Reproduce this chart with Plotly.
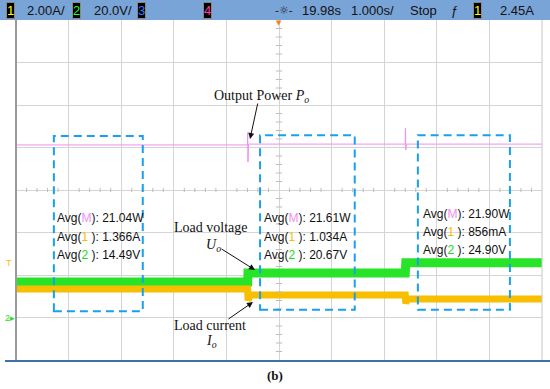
import plotly.graph_objects as go

# ---- data (screen divisions: x in time divisions 0..10, y in vertical divisions 0..8) ----
power_t = [0, 4.40, 4.405, 4.41, 4.42, 7.40, 7.405, 7.41, 7.42, 10]
power_y = [5.06, 5.06, 5.35, 4.66, 5.08, 5.08, 5.46, 4.94, 5.08, 5.08]

voltage_t = [0, 4.405, 4.41, 7.40, 7.41, 10]
voltage_y = [1.835, 1.835, 2.05, 2.05, 2.29, 2.29]

current_t = [0, 4.405, 4.41, 4.43, 4.45, 7.40, 7.41, 7.43, 7.45, 10]
current_y = [1.67, 1.67, 1.40, 1.50, 1.53, 1.53, 1.33, 1.42, 1.435, 1.435]

box_x0 = [0.72, 4.64, 7.64]
box_x1 = [2.41, 6.44, 9.39]
box_y0 = [1.15, 1.18, 1.18]
box_y1 = [5.27, 5.29, 5.29]

avg_power = ["21.04W", "21.61W", "21.90W"]
avg_current = ["1.366A", "1.034A", "856mA"]
avg_voltage = ["14.49V", "20.67V", "24.90V"]

W, H = 550, 389
L, R, T, B = 16, 8, 20, 29
PW, PH = W - L - R, H - T - B


def px(x):
    return (x - L) / PW


def py(y):
    return (H - B - y) / PH


PINK = "#f28ef0"
GREEN = "#28e428"
ORANGE = "#f8be00"
BLUE = "#1a9fee"

fig = go.Figure()
fig.add_trace(go.Scatter(x=voltage_t, y=voltage_y, mode="lines",
                         line=dict(color=GREEN, width=9), hoverinfo="skip"))
fig.add_trace(go.Scatter(x=current_t, y=current_y, mode="lines",
                         line=dict(color=ORANGE, width=7), hoverinfo="skip"))
fig.add_trace(go.Scatter(x=power_t, y=power_y, mode="lines",
                         line=dict(color=PINK, width=1), hoverinfo="skip"))

shapes = []
# header bar
shapes.append(dict(type="rect", xref="paper", yref="paper", x0=px(0), x1=px(W),
                   y0=py(20), y1=py(0), fillcolor="#79a4d8", line=dict(width=0), layer="below"))
# left and right borders
shapes.append(dict(type="line", xref="paper", yref="paper", x0=0, x1=0, y0=0, y1=1,
                   line=dict(color="#9a9a9a", width=2)))
shapes.append(dict(type="line", xref="paper", yref="paper", x0=1, x1=1, y0=0, y1=1,
                   line=dict(color="#c8c8c8", width=1)))
# bottom blue line
shapes.append(dict(type="line", xref="paper", yref="paper", x0=px(5), x1=px(550),
                   y0=py(361), y1=py(361), line=dict(color="#3f70a8", width=2)))
# minor ticks on centre axes
for i in range(51):
    xv = i * 0.2
    if i % 5:
        shapes.append(dict(type="line", xref="x", yref="y", x0=xv, x1=xv, y0=3.95, y1=4.05,
                           line=dict(color="#bdbdbd", width=1)))
for i in range(41):
    yv = i * 0.2
    if i % 5:
        shapes.append(dict(type="line", xref="x", yref="y", x0=4.94, x1=5.06, y0=yv, y1=yv,
                           line=dict(color="#bdbdbd", width=1)))
# dashed boxes
for x0, x1, y0, y1 in zip(box_x0, box_x1, box_y0, box_y1):
    shapes.append(dict(type="rect", xref="x", yref="y", x0=x0, x1=x1, y0=y0, y1=y1,
                       line=dict(color=BLUE, width=2, dash="8px,5px")))

ann = []
sans = "Liberation Sans, Arial, sans-serif"
serif = "Liberation Serif, Times New Roman, serif"

# Avg texts
text_x = [55, 262, 421]
text_y = [(218, 237, 255), (218, 237, 255), (214, 232, 250)]
for i in range(3):
    lines = [
        f"Avg(<span style='color:#f08ef0'>M</span>): {avg_power[i]}",
        f"Avg(<span style='color:{ORANGE}'>1</span> ): {avg_current[i]}",
        f"Avg(<span style='color:#22d822'>2</span> ): {avg_voltage[i]}",
    ]
    for t, yy in zip(lines, text_y[i]):
        ann.append(dict(text=t, xref="paper", yref="paper", x=px(text_x[i]), y=py(yy),
                        xanchor="left", yanchor="middle", showarrow=False,
                        font=dict(family=sans, size=12, color="#111")))

# serif labels
ann.append(dict(text="Output Power <i>P<sub>o</sub></i>", xref="paper", yref="paper",
                x=px(212), y=py(96), xanchor="left", yanchor="middle", showarrow=False,
                font=dict(family=serif, size=14, color="#111")))
ann.append(dict(text="Load voltage", xref="paper", yref="paper", x=px(210), y=py(227),
                xanchor="center", yanchor="middle", showarrow=False,
                font=dict(family=serif, size=14, color="#111")))
ann.append(dict(text="<i>U<sub>o</sub></i>", xref="paper", yref="paper", x=px(213), y=py(245),
                xanchor="center", yanchor="middle", showarrow=False,
                font=dict(family=serif, size=14, color="#111")))
ann.append(dict(text="Load current", xref="paper", yref="paper", x=px(210), y=py(325),
                xanchor="center", yanchor="middle", showarrow=False,
                font=dict(family=serif, size=14, color="#111")))
ann.append(dict(text="<i>I<sub>o</sub></i>", xref="paper", yref="paper", x=px(211), y=py(341),
                xanchor="center", yanchor="middle", showarrow=False,
                font=dict(family=serif, size=14, color="#111")))
# arrows
for hx, hy, ax, ay in [(250, 139, 8, -37), (255, 270, -35, -22), (253, 302, -26, 18)]:
    ann.append(dict(text="", xref="paper", yref="paper", x=px(hx), y=py(hy), ax=ax, ay=ay,
                    showarrow=True, arrowhead=2, arrowsize=1.2, arrowwidth=1, arrowcolor="#111"))
# (b)
ann.append(dict(text="<b>(b)</b>", xref="paper", yref="paper", x=px(275), y=py(375),
                xanchor="center", yanchor="middle", showarrow=False,
                font=dict(family=serif, size=13, color="#111")))

# header
hdr_font = dict(family=sans, size=13, color="#111")
for t, x in [("2.00A/", 25), ("20.0V/", 92), ("19.98s", 300), ("1.000s/", 349),
             ("Stop", 408), ("2.45A", 498)]:
    ann.append(dict(text=t, xref="paper", yref="paper", x=px(x), y=py(10), xanchor="left",
                    yanchor="middle", showarrow=False, font=hdr_font))
ann.append(dict(text="ƒ", xref="paper", yref="paper", x=px(454), y=py(10), xanchor="center",
                yanchor="middle", showarrow=False, font=dict(family=sans, size=13, color="#111")))
ann.append(dict(text="-☼-", xref="paper", yref="paper", x=px(284), y=py(10), xanchor="center",
                yanchor="middle", showarrow=False, font=dict(family="DejaVu Sans", size=11, color="#222")))
for t, x, c in [("1", 10.5, "#ffff00"), ("2", 76, "#22ff22"), ("3", 141.5, "#3a7bff"),
                ("4", 207.5, "#ff3aa8"), ("1", 477, "#ffff00")]:
    ann.append(dict(text=t, xref="paper", yref="paper", x=px(x), y=py(10), xanchor="center",
                    yanchor="middle", showarrow=False, bgcolor="#000", bordercolor="#888",
                    borderwidth=1, borderpad=0, font=dict(family=sans, size=13, color=c)))
# side markers
ann.append(dict(text="T", xref="paper", yref="paper", x=px(9), y=py(263), xanchor="center",
                yanchor="middle", showarrow=False, font=dict(family=sans, size=9, color=ORANGE)))
ann.append(dict(text="2▸", xref="paper", yref="paper", x=px(10), y=py(318), xanchor="center",
                yanchor="middle", showarrow=False, font=dict(family=sans, size=9, color="#22dd22")))
ann.append(dict(text="▼", xref="paper", yref="paper", x=px(279), y=py(23), xanchor="center",
                yanchor="middle", showarrow=False, font=dict(family="DejaVu Sans", size=7, color="#f08020")))

fig.update_layout(
    width=W, height=H, margin=dict(l=L, r=R, t=T, b=B),
    paper_bgcolor="white", plot_bgcolor="white", showlegend=False,
    xaxis=dict(range=[0, 10], dtick=1, showgrid=True, gridcolor="#d4d4d4", gridwidth=1,
               showticklabels=False, zeroline=False, fixedrange=True),
    yaxis=dict(range=[0, 8], dtick=1, showgrid=True, gridcolor="#d4d4d4", gridwidth=1,
               showticklabels=False, zeroline=False, fixedrange=True),
    shapes=shapes, annotations=ann,
)
fig.write_html("out.html", config={"displayModeBar": False},
               post_script="document.body.style.margin='0';document.body.style.overflow='hidden';")
